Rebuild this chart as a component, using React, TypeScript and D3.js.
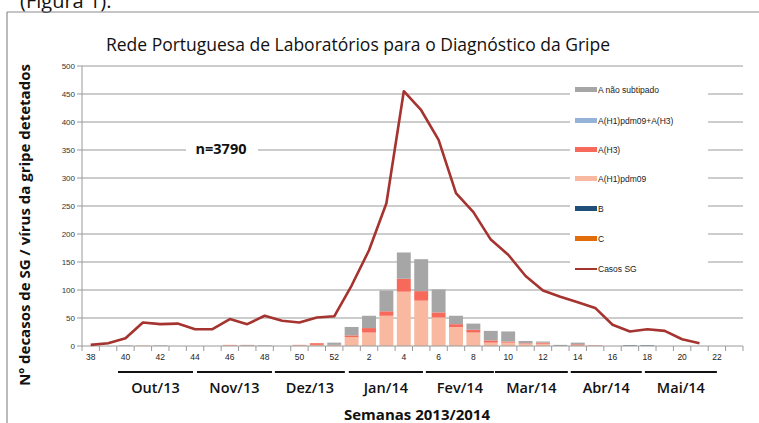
import React from 'react';
import * as d3 from 'd3';

// weeks 38..52 of 2013, then 1..23 of 2014
const weeks = [38, 39, 40, 41, 42, 43, 44, 45, 46, 47, 48, 49, 50, 51, 52,
  1, 2, 3, 4, 5, 6, 7, 8, 9, 10, 11, 12, 13, 14, 15, 16, 17, 18, 19, 20, 21, 22, 23];

// stacked series (bottom -> top)
const seriesC = [0, 0, 0, 0, 0, 0, 0, 0, 0, 0, 0, 0, 0, 0, 0,
  0, 0, 0, 0, 0, 0, 0, 0, 0, 0, 0, 0, 0, 0, 0, 0, 0, 0, 0, 0, 0, 0, 0];
const seriesB = [0, 0, 0, 0, 0, 0, 0, 0, 0, 0, 0, 0, 0, 0, 0,
  0, 0, 0, 0, 0, 0, 0, 0, 0, 0, 0, 0, 0, 0, 0, 0, 1, 1, 0, 0, 0, 0, 0];
const seriesH1 = [0, 0, 0, 1, 0, 0, 0, 0, 1, 0, 0, 0, 1, 2, 2,
  16, 24, 54, 97, 81, 51, 34, 24, 6, 6, 4, 4, 0, 1, 0, 0, 0, 0, 0, 0, 0, 0, 0];
const seriesH3 = [0, 0, 0, 0, 0, 0, 0, 0, 1, 1, 0, 0, 1, 3, 0,
  3, 8, 8, 23, 17, 9, 5, 5, 4, 2, 1, 2, 0, 2, 1, 0, 0, 0, 0, 0, 0, 0, 0];
const seriesH1H3 = [0, 0, 0, 0, 0, 0, 0, 0, 0, 0, 0, 0, 0, 0, 0,
  0, 0, 0, 0, 0, 0, 0, 0, 0, 0, 0, 0, 0, 0, 0, 0, 0, 0, 0, 0, 0, 0, 0];
const seriesANS = [0, 0, 1, 0, 1, 0, 0, 0, 0, 1, 1, 0, 0, 0, 4,
  15, 22, 37, 47, 57, 41, 15, 11, 17, 18, 4, 2, 2, 3, 0, 0, 0, 0, 0, 0, 0, 0, 0];

// Casos SG (line)
const casosSG = [2, 5, 14, 42, 39, 40, 30, 30, 48, 39, 54, 45, 42, 51, 53,
  108, 171, 255, 455, 421, 368, 273, 239, 190, 163, 125, 99, 88, 78, 68, 38, 26, 30, 27, 12, 5, null, null];

const yTicks = [0, 50, 100, 150, 200, 250, 300, 350, 400, 450, 500];

// month underline ranges, in category-index units
const months = [
  { label: 'Out/13', from: 2.07, to: 6.38 },
  { label: 'Nov/13', from: 6.61, to: 10.92 },
  { label: 'Dez/13', from: 11.09, to: 15.11 },
  { label: 'Jan/14', from: 15.34, to: 19.6 },
  { label: 'Fev/14', from: 19.77, to: 23.68 },
  { label: 'Mar/14', from: 23.74, to: 27.93 },
  { label: 'Abr/14', from: 28.1, to: 32.18 },
  { label: 'Mai/14', from: 32.36, to: 36.5 },
];

const seriesList = [
  { name: 'C', values: seriesC, color: '#E36C0A' },
  { name: 'B', values: seriesB, color: '#1F4E79' },
  { name: 'A(H1)pdm09', values: seriesH1, color: '#F9B8A0' },
  { name: 'A(H3)', values: seriesH3, color: '#F76A5B' },
  { name: 'A(H1)pdm09+A(H3)', values: seriesH1H3, color: '#95B3D7' },
  { name: 'A não subtipado', values: seriesANS, color: '#A6A6A6' },
];

const legendOrder = ['A não subtipado', 'A(H1)pdm09+A(H3)', 'A(H3)', 'A(H1)pdm09', 'B', 'C'];

const lineColor = '#A5332F';
const font = "'Open Sans', 'DejaVu Sans', sans-serif";
const smallFont = "'Liberation Sans', Arial, sans-serif";

export default function App() {
  const W = 759, H = 423;
  const left = 82, right = 743, top = 66, bottom = 346;

  const x = d3.scaleBand<number>().domain(d3.range(weeks.length)).range([left, right]).paddingInner(0.2).paddingOuter(0.1);
  const step = (right - left) / weeks.length;
  const xi = (i: number) => left + step * i; // index -> boundary position
  const y = d3.scaleLinear().domain([0, 500]).range([bottom, top]);

  const table = weeks.map((w, i) => {
    const row: any = { i };
    seriesList.forEach(s => { row[s.name] = s.values[i]; });
    return row;
  });
  const stacked = d3.stack().keys(seriesList.map(s => s.name))(table);

  const line = d3.line<number | null>()
    .defined(d => d != null)
    .x((_, i) => xi(i + 0.5))
    .y(d => y(d as number));

  const legendY = [90, 121, 150, 179, 209, 239];

  return (
    <svg width={W} height={H} style={{ position: 'absolute', left: 0, top: 0, background: '#fff' }}>
      <rect x={0} y={0} width={W} height={H} fill="#fff" />
      <text x={20} y={8} fontFamily={font} fontSize={20} fill="#111">(Figura 1).</text>
      {/* frame */}
      <line x1={7} y1={12} x2={W} y2={12} stroke="#8c8c8c" strokeWidth={1.2} />
      <line x1={7} y1={12} x2={7} y2={H} stroke="#8c8c8c" strokeWidth={1.2} />

      <text x={358} y={51} textAnchor="middle" fontFamily={font} fontSize={17.5} fill="#111">
        Rede Portuguesa de Laboratórios para o Diagnóstico da Gripe
      </text>

      {/* gridlines */}
      {yTicks.map(t => (
        <g key={t}>
          {t > 0 && <line x1={left} x2={right} y1={y(t)} y2={y(t)} stroke="#9a9a9a" strokeWidth={1} />}
          <line x1={left - 5} x2={left} y1={y(t)} y2={y(t)} stroke="#9a9a9a" />
          <text x={left - 7} y={y(t) + 3} textAnchor="end" fontFamily={smallFont} fontSize={8} fill="#333">{t}</text>
        </g>
      ))}

      {/* bars */}
      {stacked.map((layer, li) => (
        <g key={layer.key} fill={seriesList[li].color}>
          {layer.map((d, i) => d[1] - d[0] > 0 ? (
            <rect key={i} x={x(i)} width={x.bandwidth()} y={y(d[1])} height={y(d[0]) - y(d[1])} />
          ) : null)}
        </g>
      ))}

      {/* axes */}
      <line x1={left} x2={left} y1={top} y2={bottom} stroke="#9a9a9a" />
      <line x1={left} x2={right} y1={bottom} y2={bottom} stroke="#9a9a9a" />
      {d3.range(weeks.length + 1).map(i => (
        <line key={i} x1={xi(i)} x2={xi(i)} y1={bottom} y2={bottom + 5} stroke="#9a9a9a" />
      ))}
      {weeks.map((w, i) => w % 2 === 0 ? (
        <text key={i} x={xi(i + 0.5)} y={bottom + 14} textAnchor="middle" fontFamily={smallFont} fontSize={8.5} fill="#222">{w}</text>
      ) : null)}

      {/* line */}
      <path d={line(casosSG) || ''} fill="none" stroke={lineColor} strokeWidth={2.6} strokeLinejoin="round" />

      {/* n label */}
      <rect x={186} y={138} width={72} height={20} fill="#fff" />
      <text x={221} y={154} textAnchor="middle" fontFamily={font} fontWeight="bold" fontSize={14.5} fill="#111">n=3790</text>

      {/* legend */}
      <rect x={570} y={76} width={138} height={205} fill="#fff" />
      {legendOrder.map((name, k) => {
        const s = seriesList.find(d => d.name === name)!;
        return (
          <g key={name}>
            <rect x={575} y={legendY[k] - 3} width={22} height={5} fill={s.color} />
            <text x={598} y={legendY[k] + 3} fontFamily={smallFont} fontSize={8.5} fill="#222">{name}</text>
          </g>
        );
      })}
      <line x1={575} x2={597} y1={269} y2={269} stroke={lineColor} strokeWidth={2} />
      <text x={598} y={272} fontFamily={smallFont} fontSize={8.5} fill="#222">Casos SG</text>

      {/* months */}
      {months.map(m => (
        <g key={m.label}>
          <line x1={xi(m.from)} x2={xi(m.to)} y1={372} y2={372} stroke="#111" strokeWidth={2} />
          <text x={(xi(m.from) + xi(m.to)) / 2} y={393} textAnchor="middle" fontFamily={font} fontWeight="600" fontSize={14.5} fill="#111">{m.label}</text>
        </g>
      ))}

      <text x={417} y={420} textAnchor="middle" fontFamily={font} fontWeight="bold" fontSize={15} fill="#111">Semanas 2013/2014</text>

      <text transform={`translate(30,225) rotate(-90)`} textAnchor="middle" fontFamily={font} fontWeight="bold" fontSize={15} fill="#111">
        Nº decasos de SG / vírus da gripe detetados
      </text>
    </svg>
  );
}
